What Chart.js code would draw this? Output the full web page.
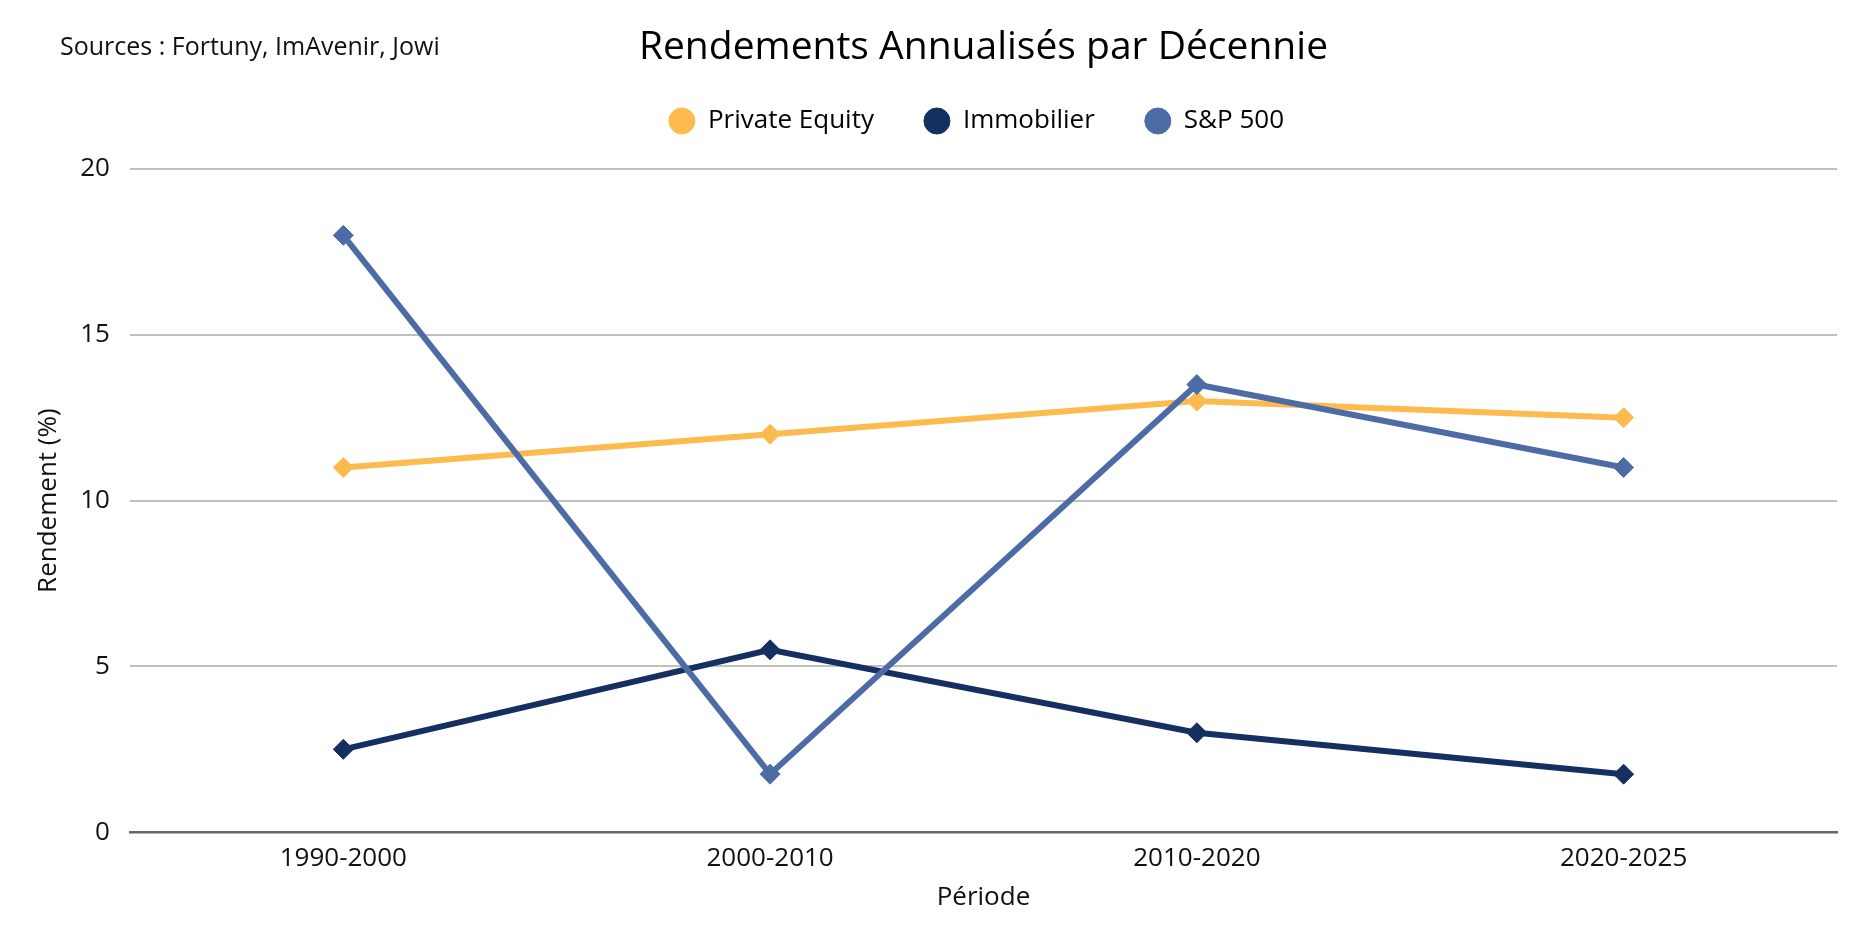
<!DOCTYPE html>
<html lang="fr">
<head>
<meta charset="utf-8">
<title>Rendements Annualisés par Décennie</title>
<script src="https://cdn.jsdelivr.net/npm/chart.js@4.4.1/dist/chart.umd.min.js"></script>
<style>
  html, body { margin: 0; padding: 0; background: #fff; }
  #wrap { position: relative; width: 1875px; height: 938px; }
  #sources {
    position: absolute; left: 60px; top: 29px;
    font: 25px/32px "Open Sans", sans-serif; color: #111;
  }
</style>
</head>
<body>
<div id="wrap">
  <canvas id="returnsChart" width="1875" height="938"></canvas>
  <div id="sources">Sources : Fortuny, ImAvenir, Jowi</div>
</div>
<script>
// Chart data
const periods = ["1990-2000", "2000-2010", "2010-2020", "2020-2025"];
const privateEquity = [11, 12, 13, 12.5];
const immobilier = [2.5, 5.5, 3, 1.75];
const sp500 = [18, 1.75, 13.5, 11];
const yTicks = [0, 5, 10, 15, 20];

const FONT = "'Open Sans', sans-serif";

// empty box between the legend and the plot area,
// and a small nudge of the legend to the left
const legendGap = {
    id: "legendGap",
    beforeInit(chart) {
        Chart.layouts.addBox(chart, {
            position: "top",
            weight: 500,
            fullSize: false,
            options: {},
            update(maxWidth) {
                this.width = maxWidth;
                this.height = 25;
            },
            isHorizontal() { return true; },
            draw() {}
        });
    },
    afterLayout(chart) {
        if (chart.legend) {
            chart.legend.left -= 7;
            chart.legend.right -= 7;
        }
    }
};

function makeLine(label, data, color, order) {
    return {
        label: label,
        data: data,
        borderColor: color,
        backgroundColor: color,
        borderWidth: 6,
        pointStyle: "rectRot",
        pointRadius: 10,
        pointBorderWidth: 1,
        pointBackgroundColor: color,
        pointBorderColor: color,
        tension: 0,
        order: order
    };
}

const ctx = document.getElementById("returnsChart").getContext("2d");
new Chart(ctx, {
    type: "line",
    data: {
        labels: periods,
        datasets: [
            makeLine("Private Equity", privateEquity, "#FDBA4F", 3),
            makeLine("Immobilier", immobilier, "#142F60", 2),
            makeLine("S&P 500", sp500, "#4D6CA6", 1)
        ]
    },
    plugins: [legendGap],
    options: {
        responsive: false,
        animation: false,
        devicePixelRatio: 1,
        layout: { padding: { top: 0, left: 28, right: 38, bottom: 21 } },
        plugins: {
            title: {
                display: true,
                text: "Rendements Annualisés par Décennie",
                fullSize: false,
                color: "#000",
                font: { family: FONT, size: 39, weight: "normal" },
                padding: { top: 24.4, bottom: -13.2 }
            },
            legend: {
                display: true,
                position: "top",
                fullSize: false,
                labels: {
                    usePointStyle: true,
                    pointStyle: "circle",
                    pointStyleWidth: 26,
                    boxHeight: 18.4,
                    padding: 50,
                    color: "#000",
                    font: { family: FONT, size: 26 },
                    sort: (a, b) => a.datasetIndex - b.datasetIndex
                }
            },
            tooltip: { enabled: false }
        },
        scales: {
            x: {
                offset: true,
                grid: { display: false, drawTicks: false },
                border: { display: true, color: "#666", width: 2.5 },
                ticks: { color: "#111", padding: 11, font: { family: FONT, size: 26 } },
                title: {
                    display: true,
                    text: "Période",
                    color: "#111",
                    font: { family: FONT, size: 26 },
                    padding: { top: -3.6, bottom: 4 }
                }
            },
            y: {
                min: yTicks[0],
                max: yTicks[yTicks.length - 1],
                afterBuildTicks: axis => { axis.ticks = yTicks.map(v => ({ value: v })); },
                grid: { color: "#C0C0C0", lineWidth: 2, drawTicks: false },
                border: { display: false },
                ticks: { color: "#111", padding: 20, font: { family: FONT, size: 26 } },
                title: {
                    display: true,
                    text: "Rendement (%)",
                    color: "#111",
                    font: { family: FONT, size: 26 },
                    padding: { top: 5, bottom: -4 }
                }
            }
        }
    }
});
</script>
</body>
</html>
